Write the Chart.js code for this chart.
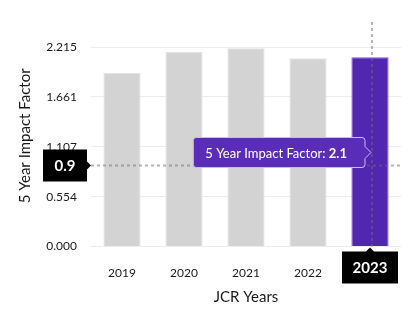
<!DOCTYPE html>
<html>
<head>
<meta charset="utf-8">
<script src="https://cdn.jsdelivr.net/npm/chart.js@4"></script>
<style>
html,body{margin:0;padding:0;background:#fff;}
#wrap{width:419px;height:321px;position:relative;}
</style>
</head>
<body>
<div id="wrap"><canvas id="c"></canvas></div>
<script>
const years = ['2019', '2020', '2021', '2022', '2023'];
const impactFactor5y = [1.93, 2.16, 2.2, 2.09, 2.1];
const yTicks = [0, 0.554, 1.107, 1.661, 2.215];
const yTickLabels = ['0.000', '0.554', '1.107', '1.661', '2.215'];
const seriesName = '5 Year Impact Factor';
const yTitle = '5 Year Impact Factor';
const xTitle = 'JCR Years';
const highlightIndex = 4;
const crosshairValue = 0.9;

const FONT = 'Lato, "Open Sans", sans-serif';
const TEXT = '#1a1a1a';
const GREY = '#d3d3d3', GREY_B = '#e2e2e2';
const PURPLE = '#5227b0', PURPLE_B = '#7a55cf';

const overlay = {
  id: 'overlay',
  afterDatasetsDraw(chart) {
    const ctx = chart.ctx, a = chart.chartArea;
    const xs = chart.scales.x, ys = chart.scales.y;
    const hx = xs.getPixelForValue(highlightIndex) + 2;
    const hy = ys.getPixelForValue(crosshairValue);
    ctx.save();
    // y axis title
    ctx.save();
    ctx.translate(25, (a.top + a.bottom) / 2 - 11);
    ctx.rotate(-Math.PI / 2);
    ctx.fillStyle = TEXT;
    ctx.font = '15px ' + FONT;
    ctx.textAlign = 'center';
    ctx.textBaseline = 'middle';
    ctx.fillText(yTitle, 0, 0);
    ctx.restore();

    // crosshair
    ctx.strokeStyle = 'rgba(110,110,110,0.5)';
    ctx.lineWidth = 2;
    ctx.setLineDash([3, 3]);
    ctx.beginPath();
    ctx.moveTo(hx, a.top - 25); ctx.lineTo(hx, a.bottom);
    ctx.moveTo(a.left, hy); ctx.lineTo(a.right, hy);
    ctx.stroke();
    ctx.setLineDash([]);

    // y value label
    const yl = {r: a.left - 4, w: 44, h: 32};
    ctx.fillStyle = '#000';
    ctx.beginPath();
    ctx.moveTo(yl.r - yl.w, hy - yl.h / 2);
    ctx.lineTo(yl.r, hy - yl.h / 2);
    ctx.lineTo(yl.r, hy - 4);
    ctx.lineTo(yl.r + 4, hy);
    ctx.lineTo(yl.r, hy + 4);
    ctx.lineTo(yl.r, hy + yl.h / 2);
    ctx.lineTo(yl.r - yl.w, hy + yl.h / 2);
    ctx.closePath();
    ctx.fill();
    ctx.fillStyle = '#fff';
    ctx.font = 'bold 15px ' + FONT;
    ctx.textAlign = 'center';
    ctx.textBaseline = 'middle';
    ctx.fillText(String(crosshairValue), yl.r - yl.w / 2, hy + 1);

    // x value label
    const bx = xs.getPixelForValue(highlightIndex);
    const xt = a.bottom + 5, xw = 56, xh = 32;
    ctx.fillStyle = '#000';
    ctx.beginPath();
    ctx.moveTo(bx - xw / 2, xt);
    ctx.lineTo(bx - 4, xt);
    ctx.lineTo(bx, xt - 4);
    ctx.lineTo(bx + 4, xt);
    ctx.lineTo(bx + xw / 2, xt);
    ctx.lineTo(bx + xw / 2, xt + xh);
    ctx.lineTo(bx - xw / 2, xt + xh);
    ctx.closePath();
    ctx.fill();
    ctx.fillStyle = '#fff';
    ctx.fillText(years[highlightIndex], bx, xt + xh / 2 + 1);

    // tooltip
    const label = seriesName + ': ';
    const val = String(impactFactor5y[highlightIndex]);
    ctx.font = '13px ' + FONT;
    const w1 = ctx.measureText(label).width;
    ctx.font = 'bold 13px ' + FONT;
    const w2 = ctx.measureText(val).width;
    const tipX = bx + 1, tipY = hy - 13;
    const tw = w1 + w2 + 12 + 18, th = 30, caret = 6;
    const tr = tipX - caret, tl = tr - tw, tt = tipY - th / 2, tb = tipY + th / 2;
    const rad = 3;
    ctx.beginPath();
    ctx.moveTo(tl + rad, tt);
    ctx.lineTo(tr - rad, tt);
    ctx.quadraticCurveTo(tr, tt, tr, tt + rad);
    ctx.lineTo(tr, tipY - caret);
    ctx.lineTo(tipX, tipY);
    ctx.lineTo(tr, tipY + caret);
    ctx.lineTo(tr, tb - rad);
    ctx.quadraticCurveTo(tr, tb, tr - rad, tb);
    ctx.lineTo(tl + rad, tb);
    ctx.quadraticCurveTo(tl, tb, tl, tb - rad);
    ctx.lineTo(tl, tt + rad);
    ctx.quadraticCurveTo(tl, tt, tl + rad, tt);
    ctx.closePath();
    ctx.fillStyle = '#5a2db8';
    ctx.fill();
    ctx.strokeStyle = '#cbbcef';
    ctx.lineWidth = 1;
    ctx.stroke();
    ctx.fillStyle = '#fff';
    ctx.textAlign = 'left';
    ctx.font = '13px ' + FONT;
    ctx.fillText(label, tl + 12, tipY + 1);
    ctx.font = 'bold 13px ' + FONT;
    ctx.fillText(val, tl + 12 + w1, tipY + 1);
    ctx.restore();
  }
};

new Chart(document.getElementById('c'), {
  type: 'bar',
  data: {
    labels: years,
    datasets: [{
      label: seriesName,
      data: impactFactor5y,
      backgroundColor: years.map((_, i) => i === highlightIndex ? PURPLE : GREY),
      borderColor: years.map((_, i) => i === highlightIndex ? PURPLE_B : GREY_B),
      borderWidth: 1,
      barPercentage: 0.75,
      categoryPercentage: 0.8
    }]
  },
  options: {
    responsive: true,
    maintainAspectRatio: false,
    animation: false,
    events: [],
    layout: {padding: {top: 47, right: 18, left: 0, bottom: 11}},
    plugins: {legend: {display: false}, tooltip: {enabled: false}},
    scales: {
      x: {
        grid: {display: false},
        border: {display: false},
        ticks: {color: TEXT, font: {family: FONT, size: 12}, padding: 11},
        title: {display: true, text: xTitle, color: TEXT, font: {family: FONT, size: 15}, padding: {top: -3, bottom: 4}}
      },
      y: {
        min: 0,
        max: yTicks[yTicks.length - 1],
        afterBuildTicks(s) { s.ticks = yTicks.map(v => ({value: v})); },
        afterFit(s) { s.width = 91; },
        grid: {color: '#ececec', drawTicks: false},
        border: {display: false},
        ticks: {
          color: TEXT, font: {family: FONT, size: 12}, padding: 14,
          callback: (v) => yTickLabels[yTicks.indexOf(v)]
        },
        title: {display: false}
      }
    }
  },
  plugins: [overlay]
});
</script>
</body>
</html>
